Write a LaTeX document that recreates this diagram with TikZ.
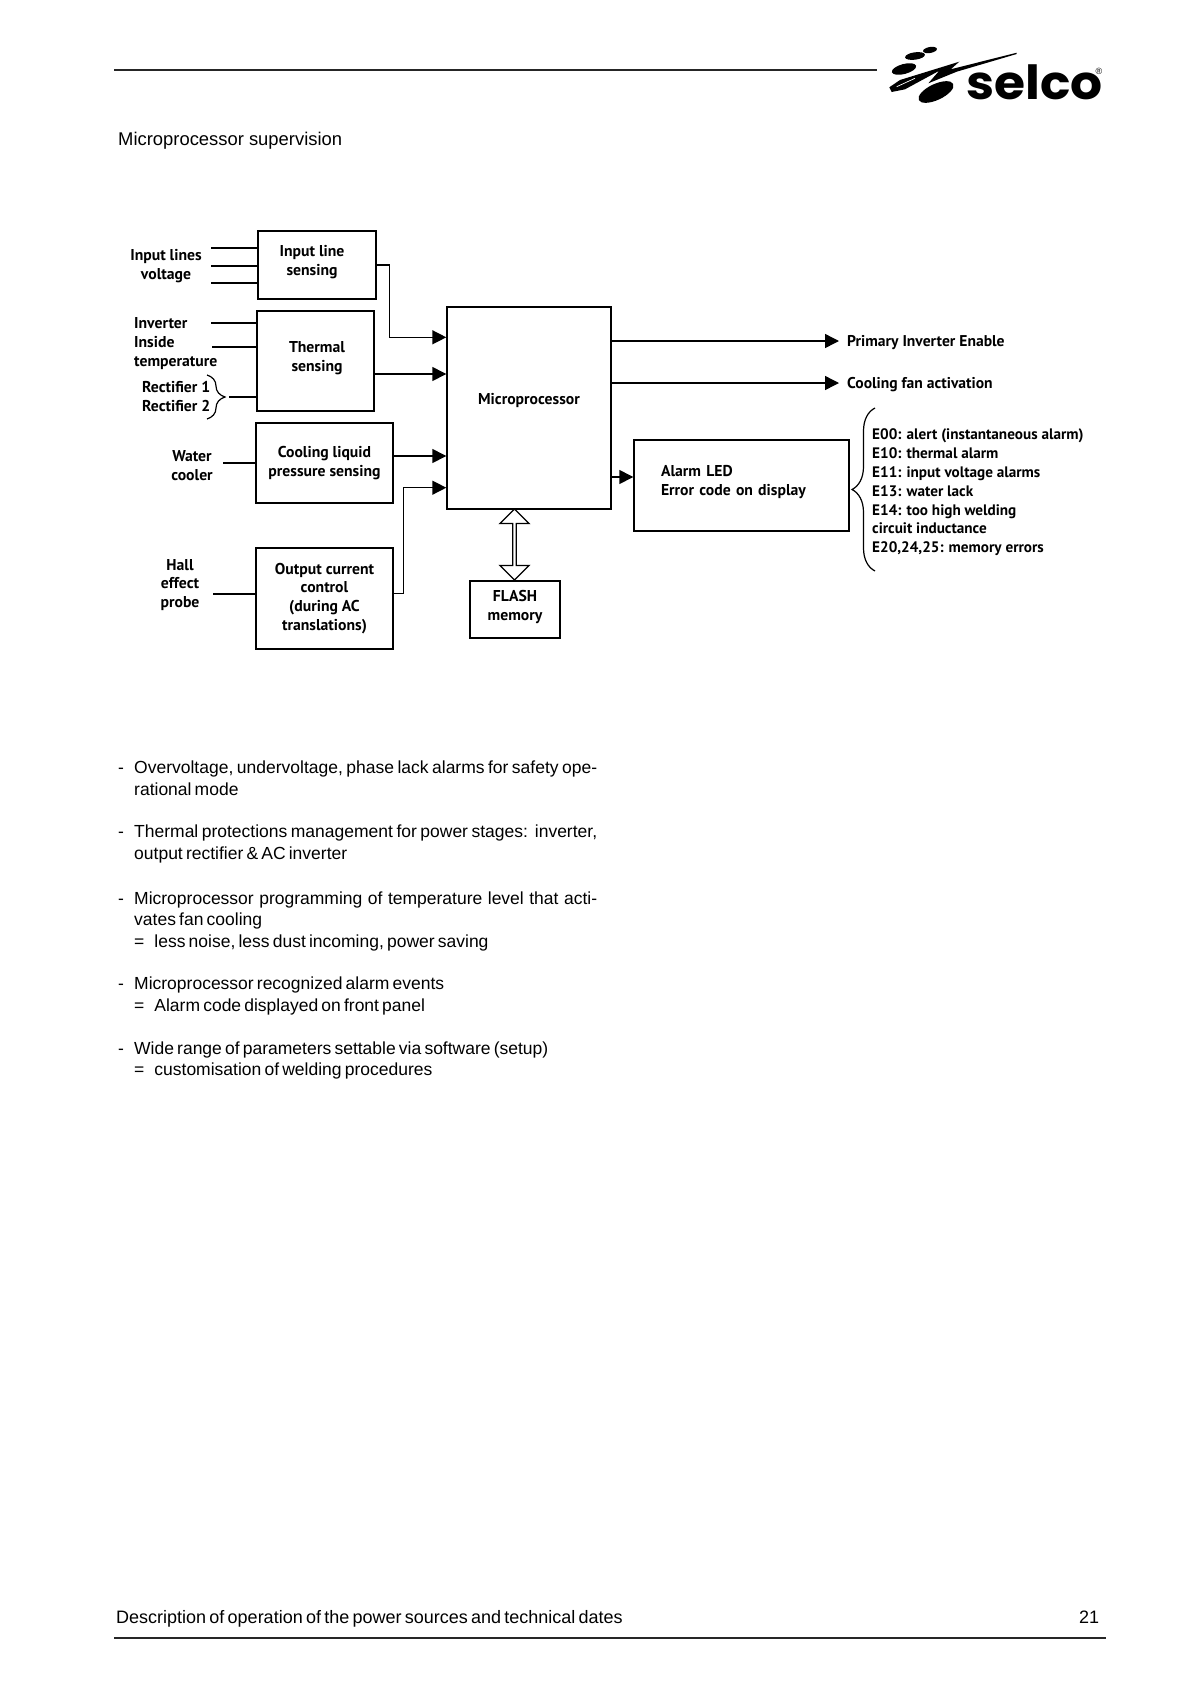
\documentclass[tikz,border=0pt]{standalone}
\usepackage{fontspec}
\usepackage{graphicx}
\setmainfont{Liberation Sans}
\newfontfamily\bodyfont{Liberation Sans}[WordSpace=0.65]
\newfontfamily\blockfont{PT Sans}
\newfontfamily\logofont{Poppins}
\usetikzlibrary{positioning, arrows.meta, shapes.arrows, decorations.pathreplacing}
\newcommand{\itemdash}{\makebox[16pt][l]{-}}
\newcommand{\itemgap}{\hspace*{16pt}}
\newcommand{\itemequal}{\itemgap=\hspace{10pt}}
\newcommand{\fullline}[1]{\makebox[463pt][s]{#1}}

\begin{document}
\begin{tikzpicture}[
  x=1pt, y=-1pt,
  block/.style={
    draw=black, line width=1.4pt, fill=white, inner sep=0pt, align=center,
    font=\blockfont\bfseries\fontsize{15.7}{18.8}\selectfont
  },
  signal/.style={
    inner sep=0pt, align=#1,
    font=\blockfont\bfseries\fontsize{15.7}{18.8}\selectfont
  },
  signal/.default=center,
  errorlist/.style={
    inner sep=0pt, align=left, anchor=west,
    font=\blockfont\bfseries\fontsize{15.2}{18.8}\selectfont
  },
  outlabel/.style={
    anchor=west, inner sep=0pt, inner xsep=8pt,
    font=\blockfont\bfseries\fontsize{15.6}{18.8}\selectfont
  },
  bodytext/.style={
    anchor=west, inner sep=0pt, align=left,
    font=\bodyfont\fontsize{17.5}{21.5}\selectfont
  },
  pagetext/.style={
    anchor=west, inner sep=0pt,
    font=\bodyfont\fontsize{18}{21.5}\selectfont
  },
  feed/.style={-, line width=1.4pt, black},
  tap/.style={-{Triangle[length=14pt,width=14pt]}, line width=1.4pt, black},
  bracket/.style={
    line width=1.2pt, black,
    decorate, decoration={brace, amplitude=#1}
  },
  rule/.style={line width=1.3pt, black!85},
  buslink/.style={
    double arrow, draw=black, line width=1.3pt, fill=white,
    shape border rotate=90, inner sep=0pt,
    minimum height=71pt, minimum width=29pt,
    double arrow head extend=5pt
  },
]
  \useasboundingbox (0,0) rectangle (1190,1684);

  \coordinate (headl) at (114,70);
  \coordinate (headr) at (877,70);
  \coordinate (footl) at (114,1638);
  \coordinate (footr) at (1106,1638);
  \draw[rule] (headl) -- (headr);
  \draw[rule] (footl) -- (footr);

  \fill[black, rotate around={10:(930,50)}] (930,50) ellipse (7 and 3);
  \fill[black, rotate around={8:(915,56)}] (915,56) ellipse (10 and 3.7);
  \fill[black, rotate around={15:(904,69)}] (904,69) ellipse (12.5 and 5);
  \fill[black, rotate around={25:(936,92)}] (936,92) ellipse (19 and 8);
  \fill[black] (889.3,87.3) -- (900,80) -- (959.3,61.7) -- (950.7,69.3)
    -- (1016.7,52.7) -- (1016.7,54) -- (956.7,71.7) -- (928.3,83.3)
    -- (939.3,70.7) -- (905,89.3) -- (891.7,92) -- cycle;
  \draw[white, line width=0.7pt] (896.7,86.7) -- (915,78.3);
  \node[inner sep=0pt, anchor=base west, font=\logofont\bfseries\fontsize{47}{47}\selectfont] (brand) at (966,99.5) {\scalebox{1.07}[1]{selco}};
  \node[inner sep=0pt, font=\fontsize{9}{9}\selectfont] (regmark) at (1099,71) {®};

  \node[inner sep=0pt, anchor=west, font=\fontsize{18.4}{21.5}\selectfont] (title) at (118,141) {Microprocessor supervision};

  \node[block, minimum width=118pt, minimum height=68pt] (sensein) at (317,265) {Input line\kern10pt\\sensing\kern10pt\\[-9pt]~};
  \node[block, minimum width=117pt, minimum height=100pt] (thermal) at (315.5,361) {\kern3pt Thermal\\\kern3pt sensing\\[-9pt]~};
  \node[block, minimum width=137pt, minimum height=80pt] (cooling) at (324.5,463) {Cooling liquid\\pressure sensing};
  \node[block, minimum width=137pt, minimum height=101pt] (outcurrent) at (324.5,598.5) {Output current\\control\\(during AC\\translations)};
  \node[block, minimum width=164pt, minimum height=202pt] (micro) at (529,408) {Microprocessor\\~};
  \node[block, minimum width=90pt, minimum height=57pt] (flash) at (515,609.5) {FLASH\\memory\\[-10pt]~};
  \node[block, text width=161pt, inner xsep=27pt, minimum height=91pt, align=left] (alarm) at (741.5,485.5) {Alarm LED\\Error code on display\\[-9pt]~};
  \node[buslink] (flashbus) at (514.5,544.5) {};

  \node[signal] (vinlabel) at (166,266) {Input lines\\voltage};
  \node[signal=left, anchor=west] (templabel) at (134,343.5) {Inverter\\Inside\\temperature};
  \node[signal=left, anchor=west] (rectlabel) at (142,396.5) {Rectifier 1\\Rectifier 2};
  \node[signal] (waterlabel) at (192,466) {Water\\cooler};
  \node[signal] (halllabel) at (180,585) {Hall\\effect\\probe};

  \node[outlabel] (enable) at (839,342.5) {Primary Inverter Enable};
  \node[outlabel] (fan) at (839,384.5) {Cooling fan activation};
  \node[errorlist] (errors) at (872,492.5) {E00: alert (instantaneous alarm)\\E10: thermal alarm\\E11: input voltage alarms\\E13: water lack\\E14: too high welding\\circuit inductance\\E20,24,25: memory errors};

  \foreach \n/\yy in {1/248, 2/266, 3/283} {
    \coordinate (vin\n) at (211,\yy);
    \draw[feed] (vin\n) -- (vin\n -| sensein.west);
  }
  \foreach \n/\xx/\yy in {1/211/323, 2/212/347, 3/229/397} {
    \coordinate (temp\n) at (\xx,\yy);
    \draw[feed] (temp\n) -- (temp\n -| thermal.west);
  }
  \coordinate (water) at (223,463);
  \coordinate (hall) at (213,594);
  \draw[feed] (water) -- (water -| cooling.west);
  \draw[feed] (hall) -- (hall -| outcurrent.west);

  \coordinate (rectop) at (207,375);
  \coordinate (recbot) at (207,419);
  \coordinate (errtop) at (875,408);
  \coordinate (errbot) at (875,571);
  \draw[bracket=18pt] (rectop) -- (recbot);
  \draw[bracket=23pt] (errbot) -- (errtop);

  \draw[tap] (sensein.east) -- ++(13,0) |- ([yshift=-31pt]micro.north west);
  \draw[tap] ([yshift=-13pt]thermal.east) -- ([yshift=-13pt]thermal.east -| micro.west);
  \draw[tap] ([yshift=7pt]cooling.east) -- ([yshift=7pt]cooling.east -| micro.west);
  \draw[tap] ([yshift=5pt]outcurrent.east) -- ++(10,0) |- ([yshift=22pt]micro.south west);
  \draw[tap] ([yshift=1.5pt]enable.west -| micro.east) -- ([yshift=1.5pt]enable.west);
  \draw[tap] ([yshift=1.5pt]fan.west -| micro.east) -- ([yshift=1.5pt]fan.west);
  \draw[tap] ([yshift=8.5pt]alarm.west -| micro.east) -- ([yshift=8.5pt]alarm.west);

  \node[bodytext] (alarmsafety) at (118,778) {\itemdash\fullline{Overvoltage, undervoltage, phase lack alarms for safety ope-}\\\itemgap rational mode};
  \node[bodytext] (thermalprot) at (118,844) {\itemdash\fullline{Thermal protections management for power stages:\ \ inverter,}\\\itemgap output rectifier \& AC inverter};
  \node[bodytext] (fanprog) at (118,921) {\itemdash\fullline{Microprocessor programming of temperature level that acti-}\\\itemgap vates fan cooling\\\itemequal less noise, less dust incoming, power saving};
  \node[bodytext] (alarmevents) at (118,996) {\itemdash Microprocessor recognized alarm events\\\itemequal Alarm code displayed on front panel};
  \node[bodytext] (setup) at (118,1060.5) {\itemdash Wide range of parameters settable via software (setup)\\\itemequal customisation of welding procedures};

  \node[pagetext] (footer) at (116,1619) {Description of operation of the power sources and technical dates};
  \node[pagetext, anchor=center] (pagenum) at (1089,1617) {21};
\end{tikzpicture}
\end{document}
